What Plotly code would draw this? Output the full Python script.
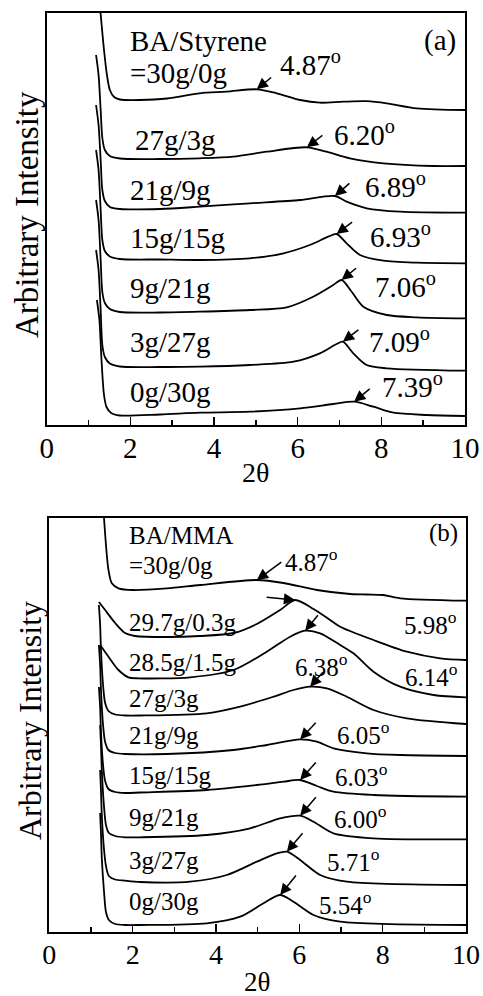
import plotly.graph_objects as go

W, H = 483, 996
FONT = "Liberation Serif, Times New Roman, serif"

# ---------------- Panel (a): BA/Styrene ----------------
a_labels = ["=30g/0g", "27g/3g", "21g/9g", "15g/15g", "9g/21g", "3g/27g", "0g/30g"]
a_peaks = ["4.87", "6.20", "6.89", "6.93", "7.06", "7.09", "7.39"]
a_x = [
    [1.26, 1.37, 1.44, 1.51, 1.61, 1.75, 2.23, 2.88, 3.66, 4.30, 5.02, 5.50, 6.06, 6.53, 7.09, 7.65, 8.13, 8.85, 10.0],
    [1.18, 1.24, 1.29, 1.33, 1.39, 1.51, 1.75, 2.71, 3.66, 4.46, 5.26, 6.22, 6.69, 7.25, 8.05, 9.24, 10.0],
    [1.18, 1.24, 1.29, 1.33, 1.39, 1.51, 1.75, 2.71, 3.66, 4.86, 6.06, 6.89, 7.17, 7.65, 8.45, 10.0],
    [1.18, 1.24, 1.29, 1.33, 1.39, 1.51, 1.75, 2.71, 3.66, 4.86, 5.66, 6.29, 6.73, 6.93, 7.17, 7.49, 8.05, 8.85, 10.0],
    [1.18, 1.24, 1.29, 1.33, 1.39, 1.51, 1.75, 2.71, 3.66, 4.86, 5.74, 6.37, 6.85, 7.05, 7.29, 7.57, 8.13, 8.85, 10.0],
    [1.18, 1.24, 1.29, 1.33, 1.39, 1.51, 1.75, 2.71, 3.66, 4.86, 5.90, 6.53, 6.93, 7.08, 7.33, 7.65, 8.13, 10.0],
    [1.20, 1.26, 1.31, 1.37, 1.43, 1.54, 1.75, 2.71, 3.66, 4.86, 6.06, 6.85, 7.35, 7.81, 8.29, 9.08, 10.0],
]
a_y = [
    [425, 375, 350, 335, 328, 325.5, 325, 326.5, 331.7, 333.3, 335.7, 331.7, 325, 322.3, 323.3, 323.8, 321.7, 316.7, 315],
    [370, 350, 315, 287, 275, 269, 266.5, 266, 266.7, 268.3, 273.3, 277.7, 273.3, 266.7, 261.7, 259, 259],
    [320, 300, 265, 235, 224, 218, 216, 216, 218.3, 221.7, 225, 229, 223.3, 216.7, 213.3, 212.3],
    [275, 255, 215, 185, 174, 168.5, 166, 165.5, 165, 166.7, 171.7, 180, 188.3, 191, 181.7, 170, 164.3, 162.3, 161.7],
    [225, 205, 165, 133, 122, 116, 113, 112.5, 113.3, 115, 117.7, 128.3, 140, 145, 133.3, 118.3, 110, 107.7, 106.7],
    [175, 155, 115, 80, 68, 61.5, 58.5, 58, 58.3, 60, 63.3, 71.7, 81, 83.3, 71.7, 60, 56.7, 54.3],
    [125, 105, 65, 30, 18, 12, 9.5, 10.5, 12.3, 13.3, 16.7, 21, 23.3, 18.3, 12.3, 10, 9],
]

# ---------------- Panel (b): BA/MMA ----------------
b_labels = ["=30g/0g", "29.7g/0.3g", "28.5g/1.5g", "27g/3g", "21g/9g", "15g/15g", "9g/21g", "3g/27g", "0g/30g"]
b_peaks = ["4.87", "5.98", "6.14", "6.38", "6.05", "6.03", "6.00", "5.71", "5.54"]
b_x = [
    [1.30, 1.42, 1.50, 1.66, 2.02, 2.82, 3.62, 4.98, 5.62, 6.42, 7.22, 7.62, 8.01, 8.42, 10.0],
    [1.19, 1.34, 1.58, 1.82, 2.06, 2.82, 3.62, 4.42, 4.98, 5.54, 5.90, 6.34, 6.74, 6.98, 7.78, 8.58, 9.38, 10.0],
    [1.22, 1.42, 1.66, 1.90, 2.14, 3.38, 4.42, 5.22, 5.78, 6.14, 6.50, 6.98, 7.30, 7.78, 8.42, 9.22, 10.0],
    [1.19, 1.22, 1.24, 1.29, 1.34, 1.42, 1.58, 1.82, 2.18, 3.78, 4.58, 5.38, 5.86, 6.26, 6.66, 7.14, 7.78, 8.58, 10.0],
    [1.19, 1.22, 1.24, 1.29, 1.34, 1.42, 1.58, 1.82, 2.82, 4.42, 5.22, 6.02, 6.42, 6.82, 7.62, 8.42, 10.0],
    [1.19, 1.22, 1.24, 1.29, 1.34, 1.42, 1.58, 1.82, 2.18, 3.78, 4.98, 5.62, 6.02, 6.42, 6.82, 7.78, 10.0],
    [1.22, 1.24, 1.26, 1.31, 1.36, 1.43, 1.58, 1.82, 2.18, 3.78, 4.82, 5.54, 6.02, 6.34, 6.82, 7.78, 10.0],
    [1.22, 1.24, 1.26, 1.31, 1.36, 1.43, 1.58, 1.82, 2.18, 3.38, 4.26, 4.98, 5.46, 5.70, 6.02, 6.50, 7.14, 10.0],
    [1.22, 1.24, 1.26, 1.31, 1.36, 1.43, 1.58, 1.82, 2.18, 3.78, 4.58, 5.14, 5.54, 5.86, 6.34, 6.98, 10.0],
]
b_y = [
    [422, 362, 348.7, 343.7, 342, 343.7, 347, 352, 349, 342, 338, 337.5, 337, 333.7, 331.3],
    [330, 322, 309, 299, 296, 295, 296, 299, 308, 322, 332, 323, 312, 305.3, 292, 280.3, 273.7, 272],
    [287, 275.3, 262, 254.7, 253.7, 254.7, 262, 280.3, 295.3, 301.3, 298.7, 287, 278.7, 260.3, 245.3, 237, 234.7],
    [327, 307, 282, 247, 229, 221, 217.5, 216.5, 216.5, 218.7, 225.3, 235.3, 242, 245.3, 243.7, 235.3, 222, 213.7, 208],
    [287, 267, 242, 207, 190, 182, 179, 178, 178, 182, 187, 192.7, 190.3, 183.7, 178.7, 177, 176],
    [245, 225, 200, 167, 151, 143, 140, 139, 139.5, 142, 147, 150.3, 152, 146, 140.3, 137, 135.3],
    [207, 187, 162, 127, 107, 99, 96, 94.7, 94.7, 97, 103.7, 113.7, 116.3, 110.3, 98.7, 93.7, 92.7],
    [162, 142, 117, 84, 66, 56, 52.5, 51.3, 50, 50.3, 57, 70.3, 78.7, 80.3, 72, 57, 50.3, 47],
    [119, 99, 74, 42, 20, 12, 8, 7, 7, 8.7, 15.3, 28.7, 37, 30.3, 17, 10.3, 7],
]

x_ticks = [0, 2, 4, 6, 8, 10]

# text placement (data units) for panel labels
a_label_pos = [(1.94, 352), (2.06, 285), (1.94, 235), (1.94, 187), (1.94, 137), (1.94, 83), (1.94, 33)]
a_peak_pos = [(5.53, 362), (6.82, 292), (7.56, 240), (7.68, 190), (7.80, 140), (7.66, 85), (7.97, 40)]
a_arrow_off = [(16, -13), (17, -13), (16, -14), (17, -13), (16, -13), (17, -13), (17, -14)]

b_label_pos = [(1.86, 367), (1.86, 310), (1.86, 270), (1.86, 234), (1.86, 197), (1.86, 157), (1.86, 115), (1.86, 72), (1.86, 31)]
b_peak_pos = [(5.61, 372), (8.46, 309), (8.49, 257), (5.85, 267), (6.86, 199), (6.81, 157), (6.78, 115), (6.62, 72), (6.42, 29)]
b_arrow_off = [(26, -19), (-30, -3), (14, -17), (14, -16), (17, -18), (17, -19), (17, -20), (17, -20), (17, -21)]

fig = go.Figure()

for xs, ys in zip(a_x, a_y):
    fig.add_trace(go.Scatter(x=xs, y=ys, mode="lines", xaxis="x", yaxis="y",
                             line=dict(color="black", width=1.8, shape="spline", smoothing=0.8),
                             showlegend=False, hoverinfo="skip"))
for xs, ys in zip(b_x, b_y):
    fig.add_trace(go.Scatter(x=xs, y=ys, mode="lines", xaxis="x2", yaxis="y2",
                             line=dict(color="black", width=1.8, shape="spline", smoothing=0.8),
                             showlegend=False, hoverinfo="skip"))

annotations = []


def peak_of(xs, ys):
    idx = [i for i, v in enumerate(xs) if v > 2.5]
    i = max(idx, key=lambda k: ys[k])
    return xs[i], ys[i]


def add_panel(labels, peaks, xs_all, ys_all, lpos, ppos, aoff, xr, yr, fsize):
    for lab, (lx, ly) in zip(labels, lpos):
        annotations.append(dict(x=lx, y=ly, xref=xr, yref=yr, text=lab, showarrow=False,
                                xanchor="left", yanchor="middle", font=dict(size=fsize)))
    for pk, (px, py) in zip(peaks, ppos):
        annotations.append(dict(x=px, y=py, xref=xr, yref=yr, text=pk + "<sup>o</sup>", showarrow=False,
                                xanchor="left", yanchor="middle", font=dict(size=fsize)))
    for xs, ys, (ax, ay) in zip(xs_all, ys_all, aoff):
        tx, ty = peak_of(xs, ys)
        annotations.append(dict(x=tx, y=ty, xref=xr, yref=yr, text="", showarrow=True,
                                ax=ax, ay=ay, arrowhead=2, arrowsize=1.5, arrowwidth=1.5,
                                arrowcolor="black", standoff=0))


add_panel(a_labels, a_peaks, a_x, a_y, a_label_pos, a_peak_pos, a_arrow_off, "x", "y", 29)
add_panel(b_labels, b_peaks, b_x, b_y, b_label_pos, b_peak_pos, b_arrow_off, "x2", "y2", 25)

annotations += [
    dict(x=1.94, y=384, xref="x", yref="y", text="BA/Styrene", showarrow=False,
         xanchor="left", yanchor="middle", font=dict(size=29)),
    dict(x=9.83, y=385, xref="x", yref="y", text="(a)", showarrow=False,
         xanchor="right", yanchor="middle", font=dict(size=29)),
    dict(x=1.86, y=397, xref="x2", yref="y2", text="BA/MMA", showarrow=False,
         xanchor="left", yanchor="middle", font=dict(size=25)),
    dict(x=9.86, y=399, xref="x2", yref="y2", text="(b)", showarrow=False,
         xanchor="right", yanchor="middle", font=dict(size=25)),
    # axis titles
    dict(x=27 / W, y=1 - 215 / H, xref="paper", yref="paper", text="Arbitrary Intensity", showarrow=False,
         textangle=-90, xanchor="center", yanchor="middle", font=dict(size=33)),
    dict(x=30 / W, y=1 - 721 / H, xref="paper", yref="paper", text="Arbitrary Intensity", showarrow=False,
         textangle=-90, xanchor="center", yanchor="middle", font=dict(size=32)),
    dict(x=255 / W, y=1 - 472 / H, xref="paper", yref="paper", text="2θ", showarrow=False,
         xanchor="center", yanchor="middle", font=dict(size=28)),
    dict(x=257 / W, y=1 - 982 / H, xref="paper", yref="paper", text="2θ", showarrow=False,
         xanchor="center", yanchor="middle", font=dict(size=27)),
]

xaxis_common = dict(range=[0, 10], tickvals=x_ticks, ticktext=[str(t) for t in x_ticks],
                    ticks="inside", ticklen=8, tickwidth=1.5, tickcolor="black",
                    minor=dict(dtick=1, tick0=0, ticks="inside", ticklen=5, tickwidth=1.5, tickcolor="black"),
                    showline=True, linewidth=2, linecolor="black", mirror=True, automargin=False,
                    showgrid=False, zeroline=False, ticklabelstandoff=-4)
yaxis_common = dict(showticklabels=False, ticks="", showline=True, linewidth=2, linecolor="black",
                    mirror=True, showgrid=False, zeroline=False, automargin=False)

fig.update_layout(
    template="none",
    width=W, height=H,
    autosize=False,
    margin=dict(l=0, r=0, t=0, b=0, pad=0, autoexpand=False),
    paper_bgcolor="white", plot_bgcolor="white",
    font=dict(family=FONT, color="black"),
    xaxis=dict(domain=[46.7 / W, 465 / W], anchor="y", tickfont=dict(size=29), **xaxis_common),
    yaxis=dict(domain=[1 - 425 / H, 1 - 13 / H], anchor="x", range=[0, 412], **yaxis_common),
    xaxis2=dict(domain=[49.3 / W, 466 / W], anchor="y2", tickfont=dict(size=28), **xaxis_common),
    yaxis2=dict(domain=[1 - 932 / H, 1 - 518 / H], anchor="x2", range=[0, 414], **yaxis_common),
    annotations=annotations,
    showlegend=False,
)

fig.write_html(
    "out.html",
    config={"displayModeBar": False, "responsive": False, "staticPlot": True},
    post_script=(
        "document.documentElement.style.margin='0';"
        "document.body.style.margin='0';document.body.style.padding='0';"
        "document.body.style.overflow='hidden';"
        "var d=document.getElementsByClassName('plotly-graph-div')[0];"
        "d.style.position='fixed';d.style.left='0px';d.style.top='0px';"
    ),
)
